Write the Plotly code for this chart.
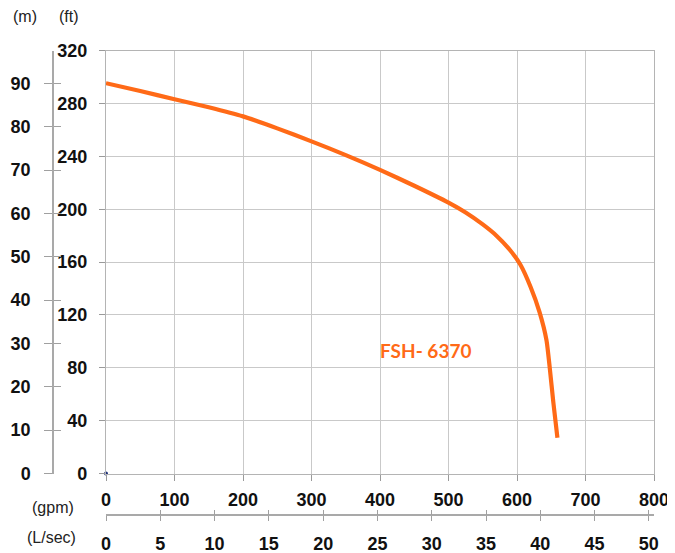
import plotly.graph_objects as go

# ---- data ----
flow_gpm = [0, 50, 100, 150, 200, 250, 300, 350, 400, 450, 500, 525, 550, 570, 590, 605, 620, 633, 643, 648, 653, 659]
head_ft = [295.4, 289.5, 283.3, 277.2, 270.3, 261.2, 251.4, 241, 229.8, 217.8, 205, 197.5, 188.5, 180, 169, 158, 141, 122, 101, 79, 54, 27]
origin_gpm = [0]
origin_ft = [0]
model_label = "FSH- 6370"

gpm_ticks = [0, 100, 200, 300, 400, 500, 600, 700, 800]
ft_ticks = [0, 40, 80, 120, 160, 200, 240, 280, 320]
m_ticks = [0, 10, 20, 30, 40, 50, 60, 70, 80, 90]
lps_ticks = [0, 5, 10, 15, 20, 25, 30, 35, 40, 45, 50]

GPM_PER_LPS = 15.8503
FT_PER_M = 3.28084

GPM_MAX = 800
FT_MAX = 320

# page body has an 8px margin; the figure is sized to fill the rest of the window
OFF = 8
W, H = 675 - OFF, 553 - OFF


def px(x):
    return (x - OFF) / W


def py(y):
    return 1 - (y - OFF) / H


# pixel geometry in window coordinates
PX_L, PX_R, PX_T, PX_B = 106, 654, 50.7, 473.5
M_AXIS_X = 53
LPS_AXIS_Y = 515

xd = [px(PX_L), px(PX_R)]
yd = [py(PX_B), py(PX_T)]

ORANGE = "#FF6A17"
GRID = "#c9c9c9"
AXL = "#b4b4b4"
tickfont = dict(family="Liberation Sans, Arial, sans-serif", size=18, color="#111111", weight="bold")
labfont = dict(family="Liberation Sans, Arial, sans-serif", size=16, color="#222222")

fig = go.Figure()

fig.add_trace(go.Scatter(
    x=flow_gpm, y=head_ft, mode="lines",
    line=dict(color=ORANGE, width=4.2, shape="spline", smoothing=0.6),
    hoverinfo="skip", showlegend=False, xaxis="x", yaxis="y"))

fig.add_trace(go.Scatter(
    x=origin_gpm, y=origin_ft, mode="markers",
    marker=dict(color="#1b2f7a", size=4), cliponaxis=False,
    hoverinfo="skip", showlegend=False, xaxis="x", yaxis="y"))

# metric copy (invisible) to bind the secondary axes
flow_lps = [g / GPM_PER_LPS for g in flow_gpm]
head_m = [h / FT_PER_M for h in head_ft]
fig.add_trace(go.Scatter(x=flow_lps, y=head_m, mode="lines", opacity=0,
                         hoverinfo="skip", showlegend=False, xaxis="x2", yaxis="y2"))
fig.add_trace(go.Scatter(x=flow_lps, y=head_m, mode="lines", opacity=0,
                         hoverinfo="skip", showlegend=False, xaxis="x3", yaxis="y3"))

fig.update_layout(
    width=W, height=H,
    margin=dict(l=0, r=0, t=0, b=0),
    paper_bgcolor="white", plot_bgcolor="white",
    xaxis=dict(domain=xd, range=[0, GPM_MAX], tickvals=gpm_ticks, showgrid=True,
               gridcolor=GRID, gridwidth=1.2, zeroline=False, showline=True, mirror=True,
               linecolor=AXL, linewidth=1.4, ticks="outside", ticklen=6, tickcolor="#9a9a9a",
               tickfont=tickfont, ticklabelstandoff=4, automargin=False, fixedrange=True),
    yaxis=dict(domain=yd, range=[0, FT_MAX], tickvals=ft_ticks, showgrid=True,
               gridcolor=GRID, gridwidth=1.2, zeroline=False, showline=True, mirror=True,
               linecolor=AXL, linewidth=1.4, ticks="outside", ticklen=6, tickcolor="#9a9a9a",
               tickfont=tickfont, ticklabelstandoff=8, automargin=False, fixedrange=True),
    # L/sec axis (outside ticks + labels)
    xaxis2=dict(overlaying="x", anchor="free", position=py(LPS_AXIS_Y),
                range=[0, GPM_MAX / GPM_PER_LPS], tickvals=lps_ticks, showgrid=False,
                zeroline=False, showline=True, linecolor="#a9a9a9", linewidth=1.5,
                ticks="outside", ticklen=5, tickcolor="#a0a0a0", tickwidth=1.3,
                tickfont=tickfont, ticklabelstandoff=8, automargin=False, side="bottom"),
    # m axis (outside ticks + labels)
    yaxis2=dict(overlaying="y", anchor="free", position=px(M_AXIS_X),
                range=[0, FT_MAX / FT_PER_M], tickvals=m_ticks, showgrid=False,
                zeroline=False, showline=True, linecolor="#a9a9a9", linewidth=1.5,
                ticks="outside", ticklen=8, tickcolor="#a0a0a0", tickwidth=1.3,
                tickfont=tickfont, ticklabelstandoff=10, automargin=False, side="left"),
    # inside ticks to make the crossing tick marks
    xaxis3=dict(overlaying="x", anchor="free", position=py(LPS_AXIS_Y),
                range=[0, GPM_MAX / GPM_PER_LPS], tickvals=lps_ticks, showgrid=False,
                zeroline=False, showline=False, ticks="inside", ticklen=5,
                tickcolor="#a0a0a0", tickwidth=1.3, showticklabels=False, automargin=False),
    yaxis3=dict(overlaying="y", anchor="free", position=px(M_AXIS_X),
                range=[0, FT_MAX / FT_PER_M], tickvals=m_ticks, showgrid=False,
                zeroline=False, showline=False, ticks="inside", ticklen=7,
                tickcolor="#a0a0a0", tickwidth=1.3, showticklabels=False, automargin=False),
)

ann = [
    ("(m)", 24.5, 16.5),
    ("(ft)", 68.5, 16.5),
    ("(gpm)", 53.5, 507),
    ("(L/sec)", 51.5, 537),
]
for txt, ax_, ay_ in ann:
    fig.add_annotation(text=txt, x=px(ax_), y=py(ay_), xref="paper", yref="paper",
                       xanchor="center", yanchor="middle", showarrow=False, font=labfont)

fig.add_annotation(text="<b>" + model_label + "</b>", x=466, y=93, xref="x", yref="y",
                   xanchor="center", yanchor="middle", showarrow=False,
                   font=dict(family="Lato, Open Sans, sans-serif", size=19, color=ORANGE))

fig.write_html("out.html")
